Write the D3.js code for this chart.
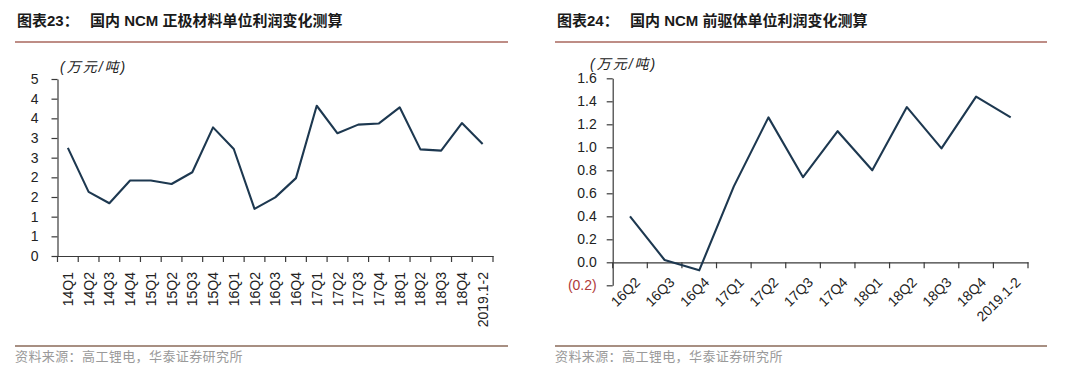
<!DOCTYPE html>
<html><head><meta charset="utf-8">
<script src="https://cdn.jsdelivr.net/npm/d3@7"></script>
<style>
body{margin:0;background:#fff;}
svg{display:block;}
text{font-family:"Liberation Sans",Arial,"Noto Sans CJK SC",sans-serif;}
</style></head>
<body>
<svg id="c" width="1080" height="385"></svg>
<script>
// ---- data ----
const leftTitleNo = "图表23：";
const leftTitle = "国内 NCM 正极材料单位利润变化测算";
const rightTitleNo = "图表24：";
const rightTitle = "国内 NCM 前驱体单位利润变化测算";
const unitLabel = "(万元/吨)";
const sourceText = "资料来源：高工锂电，华泰证券研究所";

const leftCategories = ["14Q1","14Q2","14Q3","14Q4","15Q1","15Q2","15Q3","15Q4","16Q1","16Q2","16Q3","16Q4","17Q1","17Q2","17Q3","17Q4","18Q1","18Q2","18Q3","18Q4","2019.1-2"];
const leftValues = [2.75,1.63,1.34,1.92,1.92,1.83,2.13,3.27,2.72,1.20,1.49,1.98,3.82,3.12,3.34,3.37,3.78,2.71,2.68,3.38,2.85];
const leftYTicks = [0,0.5,1,1.5,2,2.5,3,3.5,4,4.5];

const rightCategories = ["16Q2","16Q3","16Q4","17Q1","17Q2","17Q3","17Q4","18Q1","18Q2","18Q3","18Q4","2019.1-2"];
const rightValues = [0.40,0.02,-0.07,0.66,1.26,0.74,1.14,0.80,1.35,0.99,1.44,1.26];
const rightYTicks = [-0.2,0,0.2,0.4,0.6,0.8,1.0,1.2,1.4,1.6];

const svg = d3.select("#c");
const lineColor = "#1d3850";
const axisColor = "#3a3a3a";

function header(x0, x1, no, title){
  svg.append("text").attr("x", x0+2).attr("y", 26).attr("font-size", 15).attr("font-weight","bold")
    .attr("fill","#1a1a1a").text(no);
  svg.append("text").attr("x", x0+75).attr("y", 26).attr("font-size", 15).attr("font-weight","bold")
    .attr("fill","#1a1a1a").text(title);
  svg.append("line").attr("x1",x0).attr("x2",x1).attr("y1",42).attr("y2",42)
    .attr("stroke","#a8675e").attr("stroke-width",1.6);
  svg.append("line").attr("x1",x0).attr("x2",x1).attr("y1",346).attr("y2",346)
    .attr("stroke","#8a6a58").attr("stroke-width",1.6);
  svg.append("text").attr("x", x0).attr("y", 361).attr("font-size", 13)
    .attr("font-family","Noto Sans CJK SC").attr("fill","#9a9a9a").attr("letter-spacing",0.4).text(sourceText);
}
header(15, 508, leftTitleNo, leftTitle);
header(555, 1047, rightTitleNo, rightTitle);

function styleAxis(g){
  g.selectAll("path").attr("stroke", axisColor).attr("stroke-width",1.2);
  g.selectAll(".tick line").attr("stroke", axisColor).attr("stroke-width",1.2);
  g.selectAll("text").attr("fill","#222").attr("font-size",14).attr("font-family","Liberation Sans, Arial, sans-serif");
}

// ---- left chart ----
{
  const x = d3.scaleBand().domain(leftCategories).range([57.5, 493]);
  const y = d3.scaleLinear().domain([0,4.5]).range([256, 79]);
  const gy = svg.append("g").attr("transform","translate(57.5,0)")
    .call(d3.axisLeft(y).tickValues(leftYTicks).tickSize(6).tickSizeOuter(0).tickPadding(13).tickFormat(d=>String(Math.round(d))));
  styleAxis(gy);
  const gx = svg.append("g").attr("transform","translate(0,256)")
    .call(d3.axisBottom(x).tickSize(0).tickSizeOuter(0));
  styleAxis(gx);
  gx.selectAll(".tick text").attr("transform","rotate(-90)").attr("text-anchor","end")
    .attr("x",-16).attr("y",0).attr("dy","0.36em");
  // boundary ticks
  const bounds = leftCategories.map(c=>x(c)).concat([x.range()[1]]);
  gx.selectAll("line.b").data(bounds).enter().append("line").attr("class","b")
    .attr("x1",d=>d).attr("x2",d=>d).attr("y1",0).attr("y2",6).attr("stroke",axisColor).attr("stroke-width",1.2);
  svg.append("path").datum(leftValues.map((v,i)=>[leftCategories[i],v]))
    .attr("fill","none").attr("stroke",lineColor).attr("stroke-width",2.1).attr("stroke-linejoin","round")
    .attr("d", d3.line().x(d=>x(d[0])+x.bandwidth()/2).y(d=>y(d[1])));
  svg.append("text").attr("x",60).attr("y",72).attr("font-size",14).attr("font-style","italic")
    .attr("font-family","Noto Sans CJK SC").attr("letter-spacing",2).attr("fill","#222").text(unitLabel);
}

// ---- right chart ----
{
  const x = d3.scaleBand().domain(rightCategories).range([612.7, 1028]);
  const y = d3.scaleLinear().domain([-0.2,1.6]).range([285.3, 78.3]);
  const gy = svg.append("g").attr("transform","translate(612.7,0)")
    .call(d3.axisLeft(y).tickValues(rightYTicks).tickSize(6).tickSizeOuter(0).tickPadding(10)
      .tickFormat(d=> d<0 ? "("+Math.abs(d).toFixed(1)+")" : d.toFixed(1)));
  styleAxis(gy);
  gy.selectAll(".tick text").filter(d=>d<0).attr("fill","#b03a3a");
  const gx = svg.append("g").attr("transform","translate(0,"+y(0)+")")
    .call(d3.axisBottom(x).tickSize(0).tickSizeOuter(0));
  styleAxis(gx);
  gx.selectAll(".tick text").attr("text-anchor","end")
    .attr("transform","translate(4,14) rotate(-45)").attr("x",0).attr("y",0).attr("dy","0.7em");
  const bounds = rightCategories.map(c=>x(c)).concat([x.range()[1]]);
  gx.selectAll("line.b").data(bounds).enter().append("line").attr("class","b")
    .attr("x1",d=>d).attr("x2",d=>d).attr("y1",0).attr("y2",6).attr("stroke",axisColor).attr("stroke-width",1.2);
  svg.append("path").datum(rightValues.map((v,i)=>[rightCategories[i],v]))
    .attr("fill","none").attr("stroke",lineColor).attr("stroke-width",2.1).attr("stroke-linejoin","round")
    .attr("d", d3.line().x(d=>x(d[0])+x.bandwidth()/2).y(d=>y(d[1])));
  svg.append("text").attr("x",590).attr("y",69).attr("font-size",14).attr("font-style","italic")
    .attr("font-family","Noto Sans CJK SC").attr("letter-spacing",2).attr("fill","#222").text(unitLabel);
}
</script>
</body></html>
